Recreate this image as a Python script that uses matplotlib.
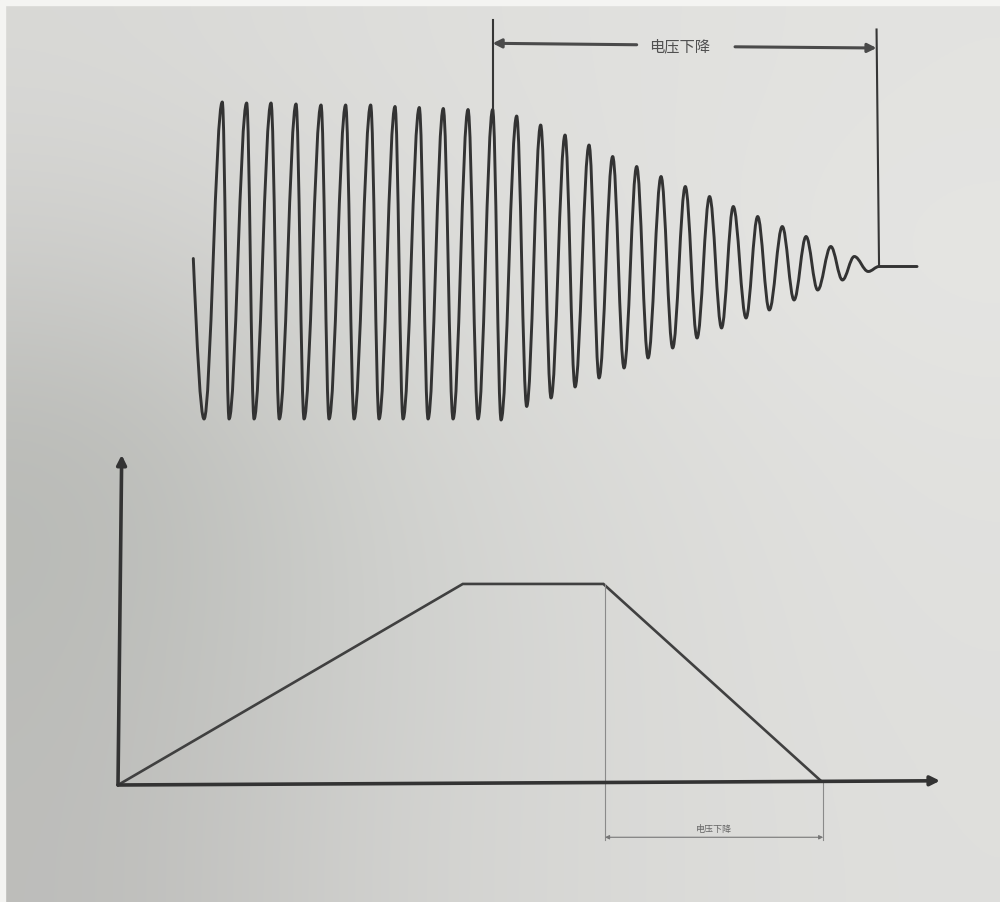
import numpy as np
import matplotlib
matplotlib.use("Agg")
import matplotlib.pyplot as plt
from matplotlib.path import Path
from matplotlib.patches import PathPatch, Rectangle

plt.rcParams["font.family"] = ["Noto Sans CJK SC", "DejaVu Sans"]

# upper chart: voltage waveform, extrema (time ms, voltage V)
wave_t = [0.0, 8.6, 23.2, 28.6, 42.7, 48.6, 62.2, 68.8, 82.2, 88.6,
          102.2, 108.6, 121.9, 128.6, 141.9, 148.6, 161.4, 167.8, 180.8, 187.8,
          200.0, 207.8, 219.8, 227.8, 239.5, 246.2, 258.7, 266.7, 277.9, 286.2,
          297.4, 305.4, 316.6, 324.6, 335.5, 344.6, 354.7, 363.8, 374.2, 383.5,
          393.6, 403.0, 413.0, 422.6, 432.0, 442.2, 451.5, 460.8, 471.2, 480.6,
          490.2, 499.5, 510.0, 519.3, 528.8, 540.0, 548.6, 579.0]
wave_v = [7, -314, 320, -314, 318, -314, 318, -314, 316, -314,
          314, -314, 314, -314, 314, -314, 311, -314, 309, -314,
          307, -314, 305, -314, 305, -316, 292, -289, 274, -272,
          254, -250, 234, -232, 211, -212, 191, -192, 171, -172,
          151, -152, 131, -132, 111, -112, 91, -96, 71, -76,
          51, -56, 31, -36, 11, -19, -9, -9]

drop_start = 239.4   # ms, start of the voltage drop
drop_end = 547.6     # ms, end of the voltage drop
drop_label = "电压下降"

# lower chart: trapezoid profile (time, percent)
prof_t = [0, 172.4, 242.7, 351.4]
prof_y = [0, 100, 100, 2.1]

fig = plt.figure(figsize=(10, 9.02), dpi=100)

# photographed paper background, darker on the left (shadow)
paper = np.array([
    [[0.85, 0.85, 0.84], [0.87, 0.87, 0.86], [0.88, 0.88, 0.87], [0.89, 0.89, 0.88]],
    [[0.80, 0.80, 0.79], [0.85, 0.85, 0.84], [0.88, 0.88, 0.87], [0.90, 0.90, 0.89]],
    [[0.72, 0.725, 0.71], [0.82, 0.825, 0.81], [0.86, 0.86, 0.85], [0.885, 0.885, 0.875]],
    [[0.73, 0.735, 0.72], [0.81, 0.815, 0.805], [0.855, 0.855, 0.845], [0.88, 0.88, 0.87]],
    [[0.74, 0.74, 0.73], [0.82, 0.82, 0.81], [0.855, 0.855, 0.845], [0.875, 0.875, 0.865]],
])
bg = fig.add_axes([0, 0, 1, 1])
bg.imshow(paper, interpolation="bicubic", extent=(0, 1, 0, 1), aspect="auto")
bg.set_xlim(0, 1)
bg.set_ylim(0, 1)
bg.axis("off")
fig.patches.append(Rectangle((0, 1 - 5 / 902), 1, 5 / 902, transform=fig.transFigure,
                             color="#f4f4f2", zorder=0.5))
fig.patches.append(Rectangle((0, 0), 5 / 1000, 1, transform=fig.transFigure,
                             color="#f4f4f2", zorder=0.5))

# ---- upper chart
ax1 = fig.add_axes([0, 1 - 440 / 902, 1, 440 / 902])
ax1.set_xlim(-154.64, 645.36)
ax1.set_ylim(-356, 524)
ax1.axis("off")

verts = [(wave_t[0], wave_v[0])]
codes = [Path.MOVETO]
for i in range(1, len(wave_t)):
    x0, y0 = wave_t[i - 1], wave_v[i - 1]
    x1, y1 = wave_t[i], wave_v[i]
    dx = x1 - x0
    if i == 1:
        c1 = (x0 + dx / 3, y0 + 0.5236 * (y1 - y0))
        c2 = (x0 + 2 * dx / 3, y1)
    else:
        c1 = (x0 + 0.3634 * dx, y0)
        c2 = (x1 - 0.3634 * dx, y1)
    verts += [c1, c2, (x1, y1)]
    codes += [Path.CURVE4] * 3
ax1.add_patch(PathPatch(Path(verts, codes), fill=False, lw=2.1, edgecolor="#333333",
                        capstyle="round", joinstyle="round"))

ax1.plot([drop_start, drop_start], [305, 484], color="#363636", lw=1.5)
ax1.plot([drop_end - 1, drop_end + 1], [465, -9], color="#363636", lw=1.5)
arrow_kw = dict(arrowstyle="-|>", color="#4a4a4a", lw=2.2, mutation_scale=13,
                shrinkA=0, shrinkB=0)
ax1.annotate("", xy=(drop_start, 437.4), xytext=(354.7, 434.5), arrowprops=arrow_kw)
ax1.annotate("", xy=(drop_end - 1, 428), xytext=(433.4, 430.4), arrowprops=arrow_kw)
ax1.text(389.4, 431, drop_label, ha="center", va="center", fontsize=11,
         color="#505050", fontweight="medium")

# ---- lower chart
ax2 = fig.add_axes([0, 0, 1, 462 / 902])
ax2.set_xlim(-59, 441)
ax2.set_ylim(-58.2, 171.6)
ax2.axis("off")

axis_kw = dict(arrowstyle="-|>", color="#333333", lw=2.6, mutation_scale=14,
               shrinkA=0, shrinkB=0)
ax2.annotate("", xy=(1.85, 164.2), xytext=(0, 0), arrowprops=axis_kw)
ax2.annotate("", xy=(411, 2.1), xytext=(0, 0), arrowprops=axis_kw)

ax2.plot(prof_t, prof_y, color="#404040", lw=1.9, solid_joinstyle="miter")

ax2.plot([243.5, 243.5], [100, -27.4], color="#8a8a8a", lw=0.8)
ax2.plot([352.6, 352.6], [2.1, -27.4], color="#8a8a8a", lw=0.8)
ax2.annotate("", xy=(243.5, -26), xytext=(352.6, -26),
             arrowprops=dict(arrowstyle="<|-|>", color="#777777", lw=0.8,
                             mutation_scale=6, shrinkA=0, shrinkB=0))
ax2.text(298, -22.2, drop_label, ha="center", va="center", fontsize=6.5, color="#666666")

plt.savefig("out.png", dpi=100)
